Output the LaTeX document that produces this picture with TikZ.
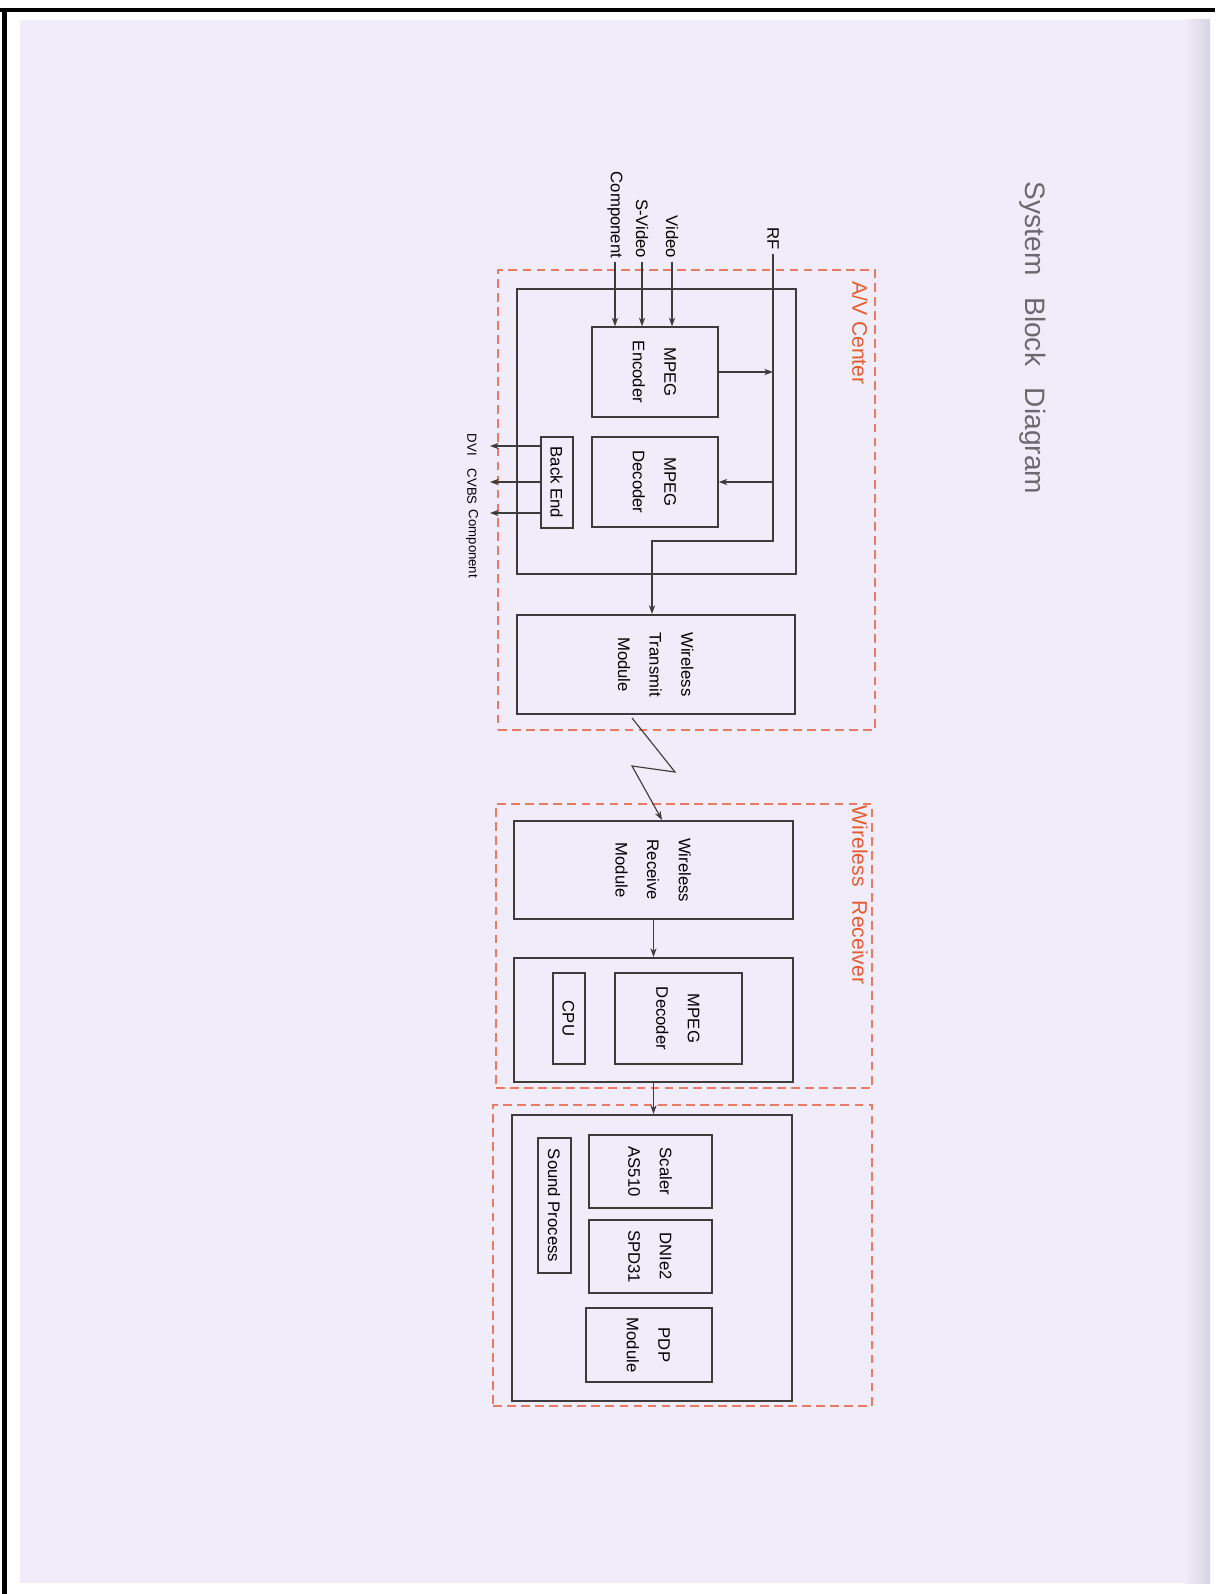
\documentclass[tikz,border=0pt]{standalone}
\usepackage{fontspec}
\setmainfont{Liberation Sans}
\usepackage{graphicx}
\usetikzlibrary{arrows.meta}

\definecolor{paper}{RGB}{241,236,250}
\definecolor{paperedge}{RGB}{215,212,225}
\definecolor{boxgray}{RGB}{60,60,60}
\definecolor{zonered}{RGB}{234,122,100}
\definecolor{zoneorange}{RGB}{228,92,45}
\definecolor{titlegray}{RGB}{105,105,110}

\newcommand{\vtext}[1]{\rotatebox{-90}{\begin{tabular}{@{}c@{}}#1\end{tabular}}}

\begin{document}
\begin{tikzpicture}[x=0.02cm, y=-0.02cm, >={Stealth[length=5pt,width=3.6pt]},
  blk/.style 2 args={draw=boxgray, line width=0.8pt, inner sep=0pt,
    minimum width=#1*0.02cm, minimum height=#2*0.02cm,
    font=\fontsize{9.5}{18}\selectfont},
  mainblk/.style 2 args={blk={#1}{#2}, line width=1.2pt},
  zone/.style 2 args={draw=zonered, line width=0.9pt, dash pattern=on 5pt off 3pt,
    minimum width=#1*0.02cm, minimum height=#2*0.02cm},
  zonelabel/.style={rotate=-90, text=zoneorange, font=\fontsize{12}{14}\selectfont},
  port/.style={rotate=-90, font=\fontsize{9.5}{11}\selectfont, inner sep=2pt},
  wire/.style={draw=boxgray, line width=0.65pt}]

  % page
  \useasboundingbox (0,0) rectangle (1215,1594);
  \fill[white] (0,0) rectangle (1215,1594);
  \fill[paper] (20,20) rectangle (1190,1583);
  \shade[left color=paper, right color=paperedge] (1185,20) rectangle (1210,1583);
  \fill[black] (0,8) rectangle (1215,12);
  \fill[black] (2,8) rectangle (7,1594);

  \node[rotate=-90, text=titlegray, font=\fontsize{16}{19}\selectfont] (title) at (1033,338)
    {System\hspace{0.5em} Block\hspace{0.5em} Diagram};

  % A/V Center
  \node[zone={377}{460}] (avzone) at (686.5,500) {};
  \node[zonelabel] (avlabel) at (860,333) {A/V Center};
  \node[mainblk={279}{285}] (avmain) at (656.5,431.5) {};
  \node[blk={126}{90}] (enc) at (655,372) {\vtext{MPEG\\Encoder}};
  \node[blk={126}{90}] (dec) at (655,482) {\vtext{MPEG\\Decoder}};
  \node[blk={32}{91}] (backend) at (557,482.5) {\vtext{Back End}};
  \node[mainblk={278}{99}] (wtx) at (656,664.5) {\vtext{Wireless\\Transmit\\Module}};

  % inputs
  \node[port, anchor=east] (video) at (672,262) {Video};
  \node[port, anchor=east] (svideo) at (642,262) {S-Video};
  \node[port, anchor=east] (comp) at (615,262) {Component};
  \node[port, anchor=east] (rf) at (773,254) {RF};
  \foreach \i in {video,svideo,comp}
    \draw[wire, ->] (\i.east) -- (\i.east |- enc.north);

  \coordinate (rfturn) at (773,541);
  \coordinate (rfdrop) at (652,541);
  \draw[wire, ->] (rf.east) -- (rfturn) -- (rfdrop) -- (rfdrop |- wtx.north);
  \draw[wire, ->] (enc.east) -- (enc.east -| rfturn);
  \draw[wire, ->] (dec.east -| rfturn) -- (dec.east);

  % outputs
  \coordinate (dviout) at (490,446);
  \coordinate (cvbsout) at (490,482);
  \coordinate (compout) at (490,513);
  \foreach \o in {dviout,cvbsout,compout}
    \draw[wire, ->] (\o -| backend.west) -- (\o);
  \node[port, anchor=west, font=\fontsize{7.5}{9}\selectfont] (dvi) at (472,430) {DVI};
  \node[port, anchor=west, font=\fontsize{7.5}{9}\selectfont] (cvbs) at (472,465) {CVBS};
  \node[port, anchor=west, font=\fontsize{7.5}{9}\selectfont] (compo) at (472,506) {Component};

  % radio link
  \coordinate (bolt1) at (632,718);
  \coordinate (bolt2) at (675,772);
  \coordinate (bolt3) at (632,766);
  \coordinate (boltx) at (662,0);

  % Wireless Receiver
  \node[zone={376}{284}] (rxzone) at (684,946) {};
  \node[zonelabel] (rxlabel) at (860,895) {Wireless\hspace{0.4em} Receiver};
  \node[mainblk={279}{98}] (wrm) at (653.5,870) {\vtext{Wireless\\Receive\\Module}};
  \node[mainblk={279}{124}] (rxmain) at (653.5,1020) {};
  \node[blk={127}{91}] (rxdec) at (678.5,1018.5) {\vtext{MPEG\\Decoder}};
  \node[blk={32}{91}] (cpu) at (569,1018.5) {\vtext{CPU}};
  \draw[wire, ->] (bolt1) -- (bolt2) -- (bolt3) -- (boltx |- wrm.north);
  \draw[wire, ->] (wrm.south) -- (rxmain.north);

  % display
  \node[zone={379}{301}] (dispzone) at (682.5,1255.5) {};
  \node[mainblk={280}{286}] (dispmain) at (652,1258) {};
  \node[blk={123}{73}] (scaler) at (650.5,1171.5) {\vtext{Scaler\\AS510}};
  \node[blk={123}{73}] (dnie) at (650.5,1256.5) {\vtext{DNIe2\\SPD31}};
  \node[blk={126}{74}] (pdp) at (649,1345) {\vtext{PDP\\Module}};
  \node[blk={33}{135}] (sound) at (554.5,1205.5) {\vtext{Sound Process}};
  \draw[wire, ->] (rxmain.south) -- (rxmain.south |- dispmain.north);
\end{tikzpicture}
\end{document}
